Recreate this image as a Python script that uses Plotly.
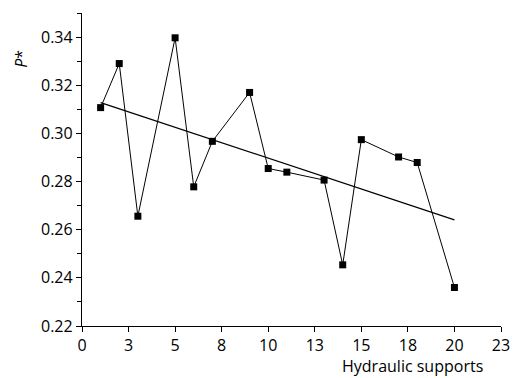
import numpy as np
import plotly.graph_objects as go

# Support index and measured P* for each hydraulic support
supports = [1, 2, 3, 5, 6, 7, 9, 10, 11, 13, 14, 15, 17, 18, 20]
p_star = [0.3107, 0.3290, 0.2656, 0.3397, 0.2778, 0.2967, 0.3170, 0.2854,
          0.2839, 0.2806, 0.2454, 0.2974, 0.2902, 0.2879, 0.2360]

# Axis ticks
x_tickvals = [0, 2.5, 5, 7.5, 10, 12.5, 15, 17.5, 20, 22.5]
x_ticktext = ["0", "3", "5", "8", "10", "13", "15", "18", "20", "23"]
y_tickvals = [0.22, 0.24, 0.26, 0.28, 0.30, 0.32, 0.34]

# Least-squares trend line over the measured range
slope, intercept = np.polyfit(supports, p_star, 1)
fit_x = [min(supports), max(supports)]
fit_y = [slope * v + intercept for v in fit_x]

FONT = "Open Sans"
SIZE = 16

fig = go.Figure()
fig.add_trace(go.Scatter(
    x=supports, y=p_star, mode="lines+markers",
    line=dict(color="black", width=1),
    marker=dict(symbol="square", size=7, color="black"),
    showlegend=False,
))
fig.add_trace(go.Scatter(
    x=fit_x, y=fit_y, mode="lines",
    line=dict(color="black", width=1.2),
    showlegend=False,
))

fig.update_layout(
    width=522, height=378,
    margin=dict(l=82, r=15, t=13, b=52),
    paper_bgcolor="white", plot_bgcolor="white",
    font=dict(family=FONT, size=SIZE, color="black"),
    xaxis=dict(
        range=[0, 22.5], tickvals=x_tickvals, ticktext=x_ticktext,
        showline=True, linecolor="black", linewidth=1.3,
        ticks="outside", ticklen=5, tickwidth=1.3, tickcolor="black",
        showgrid=False, zeroline=False,
        tickfont=dict(family=FONT, size=SIZE),
    ),
    yaxis=dict(
        range=[0.22, 0.35], tickvals=y_tickvals, tickformat=".2f",
        showline=True, linecolor="black", linewidth=1.3,
        ticks="outside", ticklen=5, tickwidth=1.3, tickcolor="black",
        minor=dict(dtick=0.01, tick0=0.22, ticks="outside", ticklen=4,
                   tickwidth=1.3, tickcolor="black", showgrid=False),
        showgrid=False, zeroline=False,
        tickfont=dict(family=FONT, size=SIZE),
    ),
    annotations=[
        dict(text="<i>P</i>*", xref="paper", yref="paper",
             x=-0.146, y=0.853, xanchor="center", yanchor="middle",
             showarrow=False, textangle=-90,
             font=dict(family=FONT, size=SIZE)),
        dict(text="Hydraulic supports", xref="paper", yref="paper",
             x=0.96, y=-0.165, xanchor="right", yanchor="bottom",
             borderpad=0, showarrow=False,
             font=dict(family=FONT, size=SIZE)),
    ],
)

fig.write_html("out.html")
